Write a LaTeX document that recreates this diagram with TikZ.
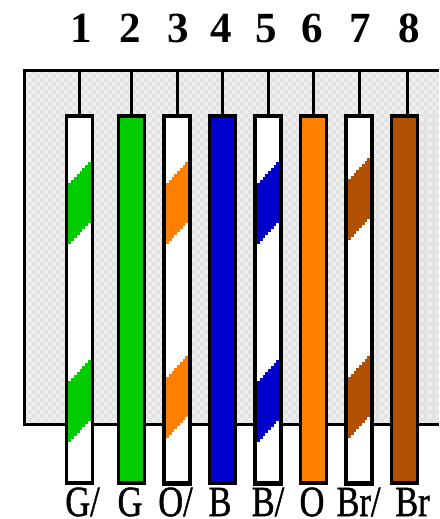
\documentclass[tikz,border=0pt]{standalone}
\usepackage{fontspec}
\setmainfont{Liberation Serif}
\newfontfamily\labfont[FakeBold=1.2]{Liberation Serif}
\definecolor{wgreen}{HTML}{00CC00}
\definecolor{worange}{HTML}{FF8000}
\definecolor{wblue}{HTML}{0000CC}
\definecolor{wbrown}{HTML}{B05000}
\definecolor{panelgray}{HTML}{EEEEEE}
\definecolor{panelcheck}{HTML}{E2E2E2}
\tikzset{
  wire/.style={draw=black,line width=#1,minimum width=26pt,minimum height=368pt,inner sep=0pt,outer sep=0pt,anchor=north west},
  stem/.style={draw=black,line width=3pt},
  num/.style={font=\bfseries\fontsize{43}{43}\selectfont,inner sep=0pt,anchor=base},
  lab/.style={font=\labfont\fontsize{43}{43}\selectfont,inner sep=0pt,anchor=base,xscale=0.8,transform shape}
}
% stripe as pixel staircase: colour, left x, y of upper edge at left, column step
\newcommand{\stairband}[4]{%
  \foreach \c in {0,...,7}{
    \fill[#1] ({#2+\c*#4},{#3-round(\c*20/7/3)*3}) rectangle ++(#4+0.05,61);
  }
}
\begin{document}
\begin{tikzpicture}[x=1pt,y=-1pt]
\useasboundingbox (0,0) rectangle (439,519);
% panel
\fill[panelgray] (24.5,70.5) rectangle (439,424.5);
\begin{scope}
\clip (24.5,70.5) rectangle (439,424.5);
\foreach \i in {0,...,104}{
  \foreach \j in {0,...,89}{
    \pgfmathtruncatemacro{\k}{mod(\i+\j,2)}
    \ifnum\k=0
      \fill[panelcheck] ({24+\i*4},{70+\j*4}) rectangle ++(4,4);
    \fi
  }
}
\fill[panelcheck] (376,170) rectangle ++(3,255);
\fill[panelcheck] (424,115) rectangle ++(3,310);
\fill[panelcheck] (432,115) rectangle ++(3,310);
\end{scope}
\draw[stem] (439,70.5) -- (24.5,70.5) -- (24.5,424.5) -- (439,424.5);
% pins on the top edge
\foreach \n/\x in {1/79.5,2/131.5,3/177,4/222.5,5/268.2,6/313.5,7/359,8/407.5}{
  \coordinate (p\n) at (\x,70.5);
}
% wires
\node[wire=3pt,fill=white]   (w1) at (66.5,115.5) {};
\node[wire=3pt,fill=wgreen]  (w2) at (118.5,115.5) {};
\node[wire=4pt,fill=white]   (w3) at (164,115.5) {};
\node[wire=3pt,fill=wblue]   (w4) at (209.5,115.5) {};
\node[wire=4pt,fill=white]   (w5) at (255,115.5) {};
\node[wire=3pt,fill=worange] (w6) at (300.5,115.5) {};
\node[wire=4pt,fill=white]   (w7) at (346,115.5) {};
\node[wire=3pt,fill=wbrown]  (w8) at (391.5,115.5) {};
\foreach \n in {1,...,8}{
  \draw[stem] (p\n) -- (p\n |- w\n.north);
  \draw[line width=1pt] (w\n.north west |- 0,117.5) -- (w\n.north east |- 0,117.5);
  \draw[line width=1pt] (w\n.north west |- 0,481.5) -- (w\n.north east |- 0,481.5);
}
% stripes
\stairband{wgreen}{68}{183}{2.875}
\stairband{wgreen}{68}{381}{2.875}
\stairband{worange}{166}{183}{2.75}
\stairband{worange}{166}{377}{2.75}
\stairband{wblue}{257}{183}{2.75}
\stairband{wblue}{257}{381}{2.75}
\stairband{wbrown}{348}{179}{2.75}
\stairband{wbrown}{348}{377}{2.75}
% numbers
\foreach \n/\x in {1/81,2/130,3/178.5,4/221,5/266.7,6/312,7/360.5,8/409.5}{
  \node[num] (n\n) at (\x,43) {\n};
}
% labels
\node[lab] (l1) at (82.5,516) {G/};
\node[lab] (l2) at (130,516) {G};
\node[lab] (l3) at (175.5,516) {O/};
\node[lab] (l4) at (220,516) {B};
\node[lab] (l5) at (268,516) {B/};
\node[lab] (l6) at (312,516) {O};
\node[lab] (l7) at (358.5,516) {Br/};
\node[lab] (l8) at (412.5,516) {Br};
\end{tikzpicture}
\end{document}
